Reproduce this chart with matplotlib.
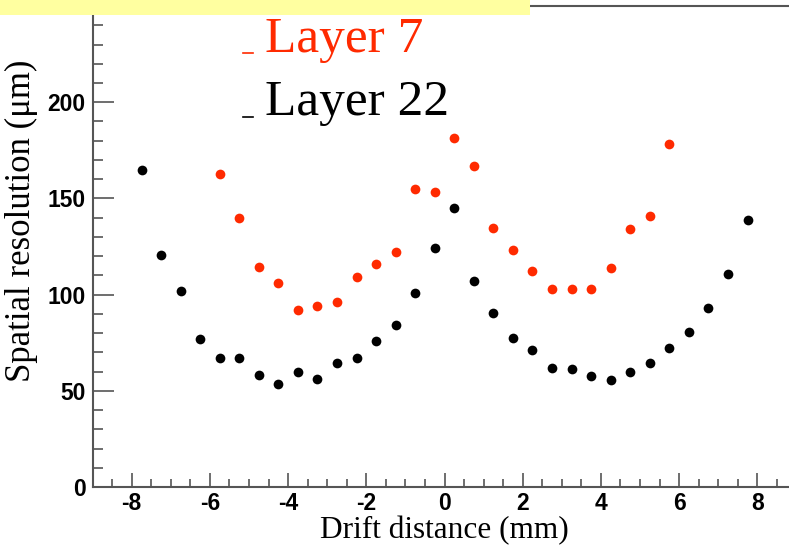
import matplotlib
matplotlib.use("Agg")
import matplotlib.pyplot as plt
from matplotlib.patches import Rectangle
from matplotlib.lines import Line2D
from matplotlib.ticker import MultipleLocator

plt.rcParams["axes.unicode_minus"] = False

# 数据：漂移距离 (mm) 与空间分辨率 (μm)
layer7_x = [-5.75, -5.25, -4.75, -4.25, -3.75, -3.25, -2.75, -2.25, -1.75, -1.25, -0.75, -0.25,
            0.25, 0.75, 1.25, 1.75, 2.25, 2.75, 3.25, 3.75, 4.25, 4.75, 5.25, 5.75]
layer7_y = [162.7, 139.7, 114.6, 105.8, 92.1, 94.1, 96.2, 109.2, 115.8, 121.9, 155.1, 153.2,
            181.6, 166.7, 134.8, 123.2, 112.5, 102.8, 102.8, 102.8, 113.9, 134.1, 141.1, 178.2]

layer22_x = [-7.75, -7.25, -6.75, -6.25, -5.75, -5.25, -4.75, -4.25, -3.75, -3.25, -2.75, -2.25,
             -1.75, -1.25, -0.75, -0.25, 0.25, 0.75, 1.25, 1.75, 2.25, 2.75, 3.25, 3.75,
             4.25, 4.75, 5.25, 5.75, 6.25, 6.75, 7.25, 7.75]
layer22_y = [164.6, 120.6, 101.8, 76.7, 67.1, 67.1, 58.3, 53.6, 59.9, 56.2, 64.5, 67.1,
             76.0, 84.1, 100.9, 124.1, 145.0, 107.1, 90.2, 77.4, 71.3, 61.8, 61.1, 57.6,
             55.6, 59.7, 64.4, 72.0, 80.8, 92.9, 110.6, 139.0]

series_labels = ["Layer 7", "Layer 22"]
series_colors = ["#ff2a00", "black"]

x_ticks = [-8, -6, -4, -2, 0, 2, 4, 6, 8]
y_ticks = [0, 50, 100, 150, 200, 250]

axis_grey = "#555555"

fig = plt.figure(figsize=(7.89, 5.48), dpi=100)
ax = fig.add_axes([0.1174, 0.1113, 0.892, 0.8777])

# 绘制散点
ax.plot(layer7_x, layer7_y, "o", color=series_colors[0], markersize=7, markeredgewidth=0)
ax.plot(layer22_x, layer22_y, "o", color=series_colors[1], markersize=7, markeredgewidth=0)

ax.set_xlim(-9, 9)
ax.set_ylim(0, 250)
ax.set_xticks(x_ticks)
ax.set_yticks(y_ticks)
ax.xaxis.set_minor_locator(MultipleLocator(0.5))
ax.yaxis.set_minor_locator(MultipleLocator(10))

# 坐标轴样式（类似 ROOT）
for side in ["left", "bottom", "top", "right"]:
    ax.spines[side].set_color(axis_grey)
    ax.spines[side].set_linewidth(1.5)
ax.tick_params(axis="both", which="both", direction="in", color=axis_grey, width=1.2)
ax.tick_params(axis="x", which="major", length=10, pad=3.5)
ax.tick_params(axis="x", which="minor", length=5.5)
ax.tick_params(axis="y", which="major", length=15, pad=5)
ax.tick_params(axis="y", which="minor", length=7)
for lab in ax.get_xticklabels() + ax.get_yticklabels():
    lab.set_fontfamily(["Liberation Sans Narrow", "Liberation Sans"])
    lab.set_fontweight("bold")
    lab.set_fontsize(16.5)

ax.set_xlabel("Drift distance (mm)", family="Liberation Serif", fontsize=22.5)
ax.set_ylabel("Spatial resolution (μm)", family="Liberation Serif", fontsize=25)
ax.xaxis.set_label_coords(0.5, -0.06)
ax.yaxis.set_label_coords(-0.077, 0.553)

# 图例（手动绘制）
fig.text(265 / 789, 1 - 52 / 548, series_labels[0], color=series_colors[0],
         family="Liberation Serif", fontsize=37, va="baseline")
fig.text(265 / 789, 1 - 115 / 548, series_labels[1], color=series_colors[1],
         family="Liberation Serif", fontsize=37, va="baseline")
fig.add_artist(Line2D([243 / 789, 253 / 789], [1 - 53 / 548, 1 - 53 / 548],
                      color=series_colors[0], linewidth=1.2))
fig.add_artist(Line2D([243 / 789, 253 / 789], [1 - 117 / 548, 1 - 117 / 548],
                      color=series_colors[1], linewidth=1.2))

# 顶部黄色框
fig.add_artist(Rectangle((0, 1 - 15 / 548), 530 / 789, 15 / 548, transform=fig.transFigure,
                         facecolor="#ffffa0", edgecolor="none", zorder=10))

fig.savefig("out.png", dpi=100)
